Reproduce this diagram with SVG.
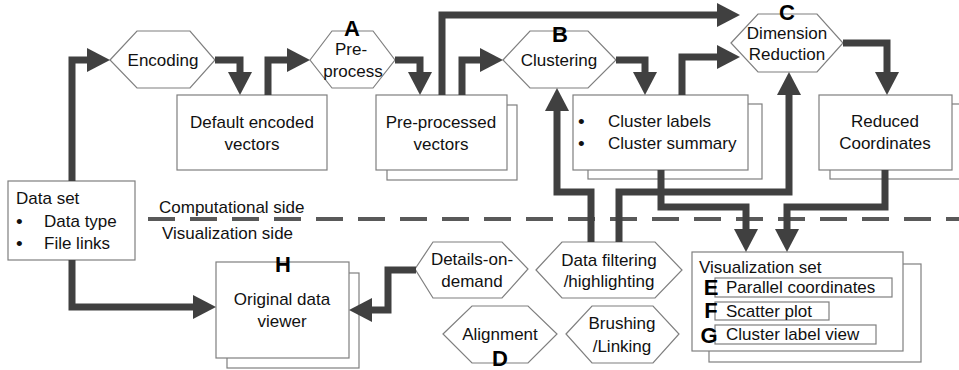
<svg xmlns="http://www.w3.org/2000/svg" width="959" height="370" viewBox="0 0 959 370">
<style>
.bx{fill:#fff;stroke:#7f7f7f;stroke-width:1.2}
.hx{fill:#fff;stroke:#7f7f7f;stroke-width:1.2}
.t{font-family:"Liberation Sans",Arial,sans-serif;font-size:17px;fill:#111}
.m{text-anchor:middle}
.b{font-size:19px}
.L{font-family:"Liberation Sans",Arial,sans-serif;font-size:22px;font-weight:bold;fill:#000;text-anchor:middle}
.c{fill:none;stroke:#404040;stroke-width:7;stroke-linejoin:miter}
.dash{fill:none;stroke:#595959;stroke-width:4;stroke-dasharray:27 15}
</style>
<defs>
<marker id="ah" markerUnits="userSpaceOnUse" markerWidth="24" markerHeight="24" refX="0" refY="12" orient="auto" overflow="visible">
<path d="M0,0 L23,12 L0,24 z" fill="#404040"/>
</marker>
</defs>
<rect width="959" height="370" fill="#fff"/>

<g id="divider">
<path class="dash" d="M148,219 H959"/>
<text class="t" x="159" y="213">Computational side</text>
<text class="t" x="162" y="239">Visualization side</text>
</g>

<g id="encoding">
<polygon class="hx" points="110,60 137,31 190,31 215,60 190,88 137,88"/>
<text class="t m" x="163" y="66">Encoding</text>
</g>
<g id="preprocess">
<polygon class="hx" points="310,60 332,31 373,31 395,60 373,88 332,88"/>
<text class="t m" x="351" y="55">Pre-</text>
<text class="t m" x="353" y="77">process</text>
<text class="L" x="352" y="36">A</text>
</g>
<g id="clustering">
<polygon class="hx" points="503,60 530,31 588,31 616,60 588,88 530,88"/>
<text class="t m" x="559" y="66">Clustering</text>
<text class="L" x="560" y="42">B</text>
</g>
<g id="dimred">
<polygon class="hx" points="731,43 758,14 817,14 843,43 817,72 758,72"/>
<text class="t m" x="787" y="39">Dimension</text>
<text class="t m" x="787" y="60">Reduction</text>
<text class="L" x="787" y="20">C</text>
</g>

<g id="default-vectors">
<rect class="bx" x="177" y="95" width="150" height="75"/>
<text class="t m" x="252" y="128">Default encoded</text>
<text class="t m" x="252" y="150">vectors</text>
</g>
<g id="preprocessed-vectors">
<rect class="bx" x="387" y="105" width="130" height="75"/>
<rect class="bx" x="376" y="95" width="131" height="75"/>
<text class="t m" x="441" y="128">Pre-processed</text>
<text class="t m" x="441" y="150">vectors</text>
</g>
<g id="cluster-labels">
<rect class="bx" x="588" y="104" width="174" height="75"/>
<rect class="bx" x="573" y="95" width="175" height="75"/>
<text class="t b" x="578" y="128">•</text>
<text class="t" x="608" y="127">Cluster labels</text>
<text class="t b" x="578" y="150">•</text>
<text class="t" x="608" y="149">Cluster summary</text>
</g>
<g id="reduced">
<rect class="bx" x="830" y="104" width="140" height="75"/>
<rect class="bx" x="819" y="95" width="133" height="75"/>
<text class="t m" x="885" y="127">Reduced</text>
<text class="t m" x="885" y="149">Coordinates</text>
</g>

<g id="dataset">
<rect class="bx" x="8" y="181" width="127" height="79"/>
<text class="t" x="16" y="204">Data set</text>
<text class="t b" x="16" y="228">•</text>
<text class="t" x="44" y="227">Data type</text>
<text class="t b" x="16" y="250">•</text>
<text class="t" x="44" y="249">File links</text>
</g>

<g id="original-viewer">
<rect class="bx" x="227" y="273" width="132" height="95"/>
<rect class="bx" x="216" y="262" width="133" height="96"/>
<text class="t m" x="282" y="305">Original data</text>
<text class="t m" x="282" y="327">viewer</text>
<text class="L" x="283" y="272">H</text>
</g>

<g id="details">
<polygon class="hx" points="415,269 433,242 502,242 528,269 502,298 433,298"/>
<text class="t m" x="472" y="265">Details-on-</text>
<text class="t m" x="472" y="287">demand</text>
</g>
<g id="filtering">
<polygon class="hx" points="536,270 562,242 655,242 682,270 655,298 562,298"/>
<text class="t m" x="609" y="266">Data filtering</text>
<text class="t m" x="609" y="287">/highlighting</text>
</g>
<g id="alignment">
<polygon class="hx" points="443,334 472,306 528,306 557,334 528,363 472,363"/>
<text class="t m" x="500" y="340">Alignment</text>
<text class="L" x="500" y="366">D</text>
</g>
<g id="brushing">
<polygon class="hx" points="566,334 592,306 653,306 679,334 653,363 592,363"/>
<text class="t m" x="622" y="329">Brushing</text>
<text class="t m" x="622" y="352">/Linking</text>
</g>

<g id="vis-set">
<rect class="bx" x="709" y="264" width="212" height="98"/>
<rect class="bx" x="692" y="252" width="211" height="99"/>
<text class="t" x="699" y="273">Visualization set</text>
<rect class="bx" x="715" y="278" width="177" height="19"/>
<text class="t" x="726" y="293">Parallel coordinates</text>
<text class="L" x="711" y="295">E</text>
<rect class="bx" x="715" y="302" width="114" height="18"/>
<text class="t" x="726" y="317">Scatter plot</text>
<text class="L" x="711" y="318">F</text>
<rect class="bx" x="715" y="325" width="161" height="19"/>
<text class="t" x="726" y="340">Cluster label view</text>
<text class="L" x="709" y="343">G</text>
</g>

<g id="connectors">
<path class="c" marker-end="url(#ah)" d="M72,181 V60 H87"/>
<path class="c" marker-end="url(#ah)" d="M72,260 V307 H193"/>
<path class="c" marker-end="url(#ah)" d="M215,60 H240 V72"/>
<path class="c" marker-end="url(#ah)" d="M268,95 V60 H287"/>
<path class="c" marker-end="url(#ah)" d="M395,60 H420 V72"/>
<path class="c" marker-end="url(#ah)" d="M442,95 V15 H717"/>
<path class="c" marker-end="url(#ah)" d="M462,95 V60 H480"/>
<path class="c" marker-end="url(#ah)" d="M616,60 H645 V72"/>
<path class="c" marker-end="url(#ah)" d="M682,95 V57 H717"/>
<path class="c" marker-end="url(#ah)" d="M843,43 H887 V72"/>
<path class="c" marker-end="url(#ah)" d="M661,170 V207 H746 V229"/>
<path class="c" marker-end="url(#ah)" d="M885,170 V207 H787 V229"/>
<path class="c" marker-end="url(#ah)" d="M591,242 V192 H557 V111"/>
<path class="c" marker-end="url(#ah)" d="M619,242 V192 H789 V95"/>
<path class="c" marker-end="url(#ah)" d="M416,270 H388 V310 H372"/>
</g>
</svg>
